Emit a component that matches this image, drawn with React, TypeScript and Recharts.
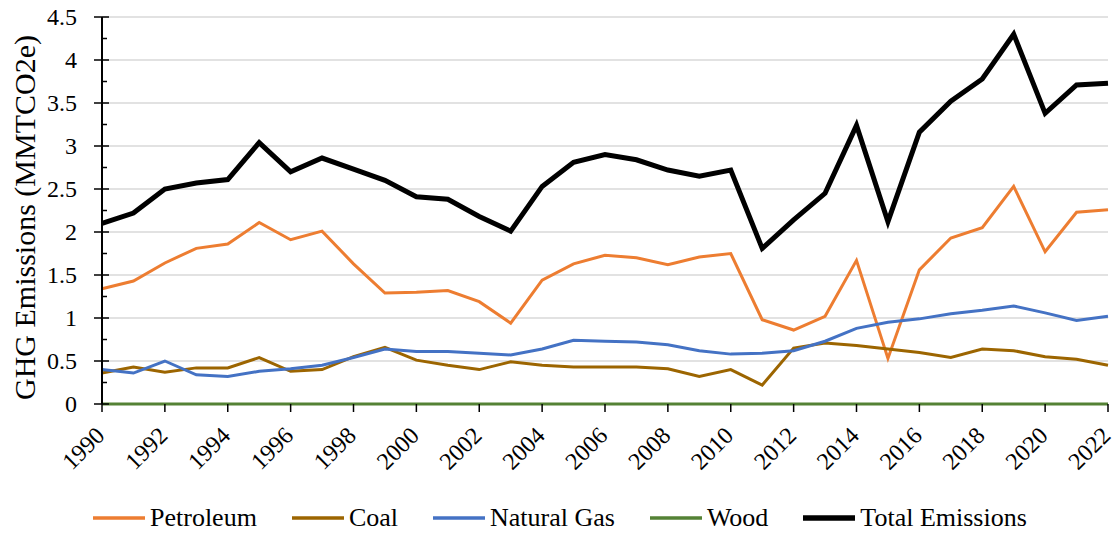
import React from "react";
import { LineChart, Line, XAxis, YAxis, CartesianGrid, Legend } from "recharts";

const years = [1990,1991,1992,1993,1994,1995,1996,1997,1998,1999,2000,2001,2002,2003,2004,2005,2006,2007,2008,2009,2010,2011,2012,2013,2014,2015,2016,2017,2018,2019,2020,2021,2022];
const petroleum = [1.34,1.43,1.64,1.81,1.86,2.11,1.91,2.01,1.63,1.29,1.30,1.32,1.19,0.94,1.44,1.63,1.73,1.70,1.62,1.71,1.75,0.98,0.86,1.02,1.67,0.53,1.56,1.93,2.05,2.53,1.77,2.23,2.26];
const coal = [0.36,0.43,0.37,0.42,0.42,0.54,0.38,0.40,0.55,0.66,0.51,0.45,0.40,0.49,0.45,0.43,0.43,0.43,0.41,0.32,0.40,0.22,0.65,0.71,0.68,0.64,0.60,0.54,0.64,0.62,0.55,0.52,0.45];
const naturalGas = [0.40,0.36,0.50,0.34,0.32,0.38,0.41,0.45,0.54,0.64,0.61,0.61,0.59,0.57,0.64,0.74,0.73,0.72,0.69,0.62,0.58,0.59,0.62,0.73,0.88,0.95,0.99,1.05,1.09,1.14,1.06,0.97,1.02];
const wood = [0,0,0,0,0,0,0,0,0,0,0,0,0,0,0,0,0,0,0,0,0,0,0,0,0,0,0,0,0,0,0,0,0];
const totalEmissions = [2.10,2.22,2.50,2.57,2.61,3.04,2.70,2.86,2.73,2.60,2.41,2.38,2.18,2.01,2.53,2.81,2.90,2.84,2.72,2.65,2.72,1.81,2.14,2.45,3.24,2.12,3.16,3.52,3.78,4.30,3.38,3.71,3.73];

const xTicks = [1990,1992,1994,1996,1998,2000,2002,2004,2006,2008,2010,2012,2014,2016,2018,2020,2022];
const yMajor = [0,0.5,1,1.5,2,2.5,3,3.5,4,4.5];
const yAll = [0,0.25,0.5,0.75,1,1.25,1.5,1.75,2,2.25,2.5,2.75,3,3.25,3.5,3.75,4,4.25,4.5];

const seriesNames = ["Petroleum","Coal","Natural Gas","Wood","Total Emissions"];
const seriesKeys = ["petroleum","coal","naturalGas","wood","total"];
const seriesColors = ["#ED7D31","#9C6500","#4472C4","#548235","#000000"];
const seriesWidths = [3,3,3,3,5];

const rows = years.map((y, i) => ({
  year: y,
  petroleum: petroleum[i],
  coal: coal[i],
  naturalGas: naturalGas[i],
  wood: wood[i],
  total: totalEmissions[i],
}));

const FONT = "Liberation Serif, Times New Roman, serif";

const YTick = (props: any) => {
  const { x, y, payload } = props;
  const v = payload.value as number;
  const major = Math.abs(v * 2 - Math.round(v * 2)) < 1e-6;
  if (!major) {
    return <line x1={x - 1} x2={x + 5} y1={y} y2={y} stroke="#000" strokeWidth={1.5} />;
  }
  return (
    <g>
      <line x1={x - 8} x2={x + 7} y1={y} y2={y} stroke="#000" strokeWidth={1.5} />
      <text x={x - 25} y={y} dy="0.35em" textAnchor="end" style={{ fontFamily: FONT, fontSize: 24 }} fill="#000">
        {String(v)}
      </text>
    </g>
  );
};

const XTick = (props: any) => {
  const { x, y, payload } = props;
  const tx = x + 4;
  const ty = y + 33;
  return (
    <g>
      <line x1={x} x2={x} y1={y} y2={y + 8} stroke="#000" strokeWidth={1.5} />
      <text x={tx} y={ty} textAnchor="end" transform={`rotate(-45, ${tx}, ${ty})`} style={{ fontFamily: FONT, fontSize: 24 }} fill="#000">
        {String(payload.value)}
      </text>
    </g>
  );
};

const LegendContent = () => (
  <div style={{ display: "flex", alignItems: "center", paddingLeft: 93, height: 30, fontFamily: FONT, fontSize: 26, color: "#000" }}>
    {seriesNames.map((n, i) => (
      <div key={n} style={{ display: "flex", alignItems: "center", marginRight: 35 }}>
        <svg width={52} height={10} style={{ marginRight: 5 }}>
          <line x1={0} x2={52} y1={5} y2={5} stroke={seriesColors[i]} strokeWidth={seriesWidths[i] + 0.5} />
        </svg>
        <span style={{ whiteSpace: "nowrap", lineHeight: "30px" }}>{n}</span>
      </div>
    ))}
  </div>
);

export default function App() {
  return (
    <div style={{ position: "absolute", left: 0, top: 0, width: 1115, height: 533, background: "#fff" }}>
      <LineChart width={1115} height={533} data={rows} margin={{ top: 17, right: 7, left: 0, bottom: 0 }} style={{ overflow: "visible" }}>
        <CartesianGrid vertical={false} horizontalValues={yMajor} stroke="#D9D9D9" strokeWidth={1.5} />
        <XAxis
          dataKey="year"
          type="number"
          domain={[1990, 2022]}
          ticks={xTicks}
          interval={0}
          height={99}
          tickSize={0}
          tickMargin={0}
          tickLine={false}
          axisLine={false}
          tick={<XTick />}
        />
        <YAxis
          type="number"
          domain={[0, 4.5]}
          ticks={yAll}
          interval={0}
          width={102}
          tickSize={0}
          tickMargin={0}
          tickLine={false}
          axisLine={{ stroke: "#000", strokeWidth: 2 }}
          tick={<YTick />}
          label={{
            content: () => (
              <text x={34.5} y={217.5} textAnchor="middle" transform="rotate(-90, 34.5, 217.5)" style={{ fontFamily: FONT, fontSize: 30 }} fill="#000">
                GHG Emissions (MMTCO2e)
              </text>
            ),
          }}
        />
        <Legend verticalAlign="bottom" height={30} content={<LegendContent />} wrapperStyle={{ left: 0, width: 1115, height: 30, bottom: 0 }} />
        {seriesKeys.map((k, i) => (
          <Line
            key={k}
            type="linear"
            dataKey={k}
            name={seriesNames[i]}
            stroke={seriesColors[i]}
            strokeWidth={seriesWidths[i]}
            dot={false}
            activeDot={false}
            isAnimationActive={false}
            strokeLinejoin="miter"
          />
        ))}
      </LineChart>
    </div>
  );
}
